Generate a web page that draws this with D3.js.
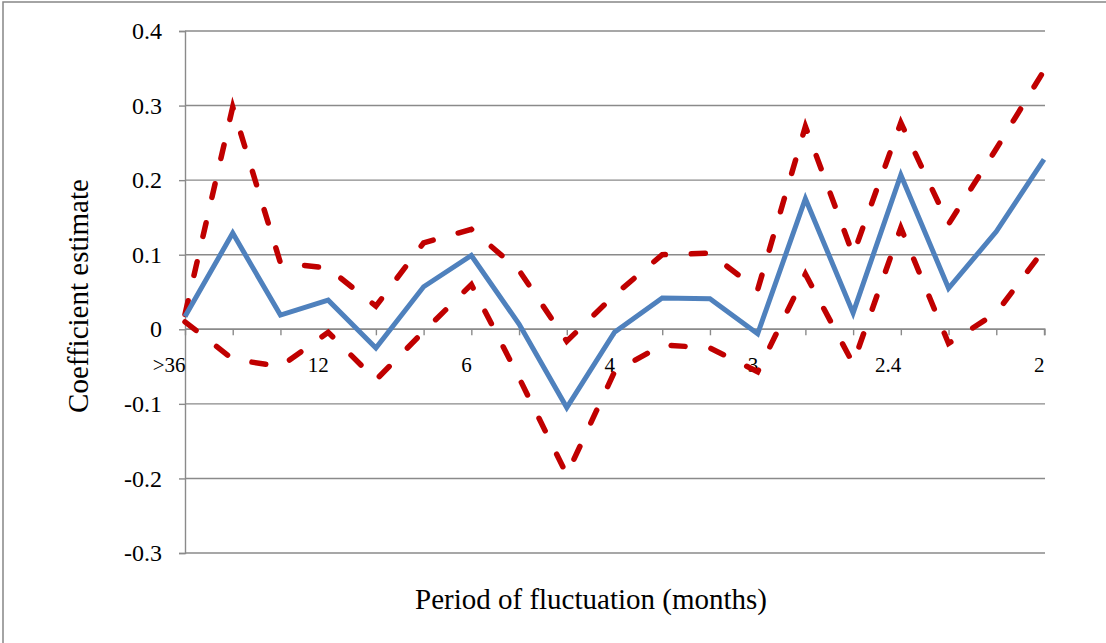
<!DOCTYPE html>
<html>
<head>
<meta charset="utf-8">
<script src="https://cdn.jsdelivr.net/npm/d3@7"></script>
<style>
  body { margin: 0; background: #fff; }
  text { font-family: "Liberation Serif", "Times New Roman", serif; fill: #000; }
</style>
</head>
<body>
<script>
'use strict';
// periods (months), one per frequency step
let periods = [">36", "36", "18", "12", "9", "7.2", "6", "5.1", "4.5", "4",
               "3.6", "3.3", "3", "2.8", "2.6", "2.4", "2.3", "2.1", "2"];
let estimate = [0.017, 0.129, 0.019, 0.039, -0.025, 0.057, 0.099, 0.007, -0.105, -0.004,
                0.042, 0.041, -0.006, 0.175, 0.022, 0.207, 0.055, 0.131, 0.228];
let upper = [0.02, 0.298, 0.089, 0.082, 0.031, 0.116, 0.134, 0.079, -0.016, 0.046,
             0.100, 0.102, 0.053, 0.272, 0.100, 0.277, 0.141, 0.242, 0.347];
let lower = [0.01, -0.040, -0.050, -0.004, -0.068, -0.003, 0.060, -0.065, -0.195, -0.057,
             -0.021, -0.025, -0.057, 0.074, -0.046, 0.136, -0.019, 0.022, 0.107];
let yTicks = [-0.3, -0.2, -0.1, 0, 0.1, 0.2, 0.3, 0.4];

let width = 1106, height = 643;
let plotLeft = 185, plotRight = 1045, plotTop = 31, plotBottom = 553;

let svg = d3.select("body").append("svg")
	.attr("width", width)
	.attr("height", height);

// outer chart frame
svg.append("rect")
	.attr("x", 3).attr("y", 2)
	.attr("width", width + 10).attr("height", height + 10)
	.attr("fill", "none")
	.attr("stroke", "#878787")
	.attr("stroke-width", 1.5);

let x = d3.scalePoint().domain(periods).range([plotLeft, 1044]);
let y = d3.scaleLinear().domain([-0.3, 0.4]).range([plotBottom, plotTop]);

// gridlines
svg.selectAll("line.grid")
	.data(yTicks)
	.enter().append("line")
		.attr("class", "grid")
		.attr("x1", plotLeft).attr("x2", plotRight)
		.attr("y1", d => y(d)).attr("y2", d => y(d))
		.attr("stroke", "#8a8a8a")
		.attr("stroke-width", 1.4);

// y axis
let yAxis = svg.append("g")
	.attr("transform", "translate(" + plotLeft + ",0)")
	.call(d3.axisLeft(y).tickValues(yTicks).tickSize(6).tickPadding(17)
		.tickFormat(d => d === 0 ? "0" : d.toFixed(1)));
yAxis.select(".domain").attr("stroke", "#8a8a8a").attr("stroke-width", 1.4);
yAxis.selectAll(".tick line").attr("stroke", "#8a8a8a").attr("stroke-width", 1.4);
yAxis.selectAll(".tick text")
	.attr("font-size", 24)
	.attr("font-family", "Liberation Serif")
	.attr("fill", "#000");

// x axis along zero
let xAxis = svg.append("g")
	.attr("transform", "translate(0," + y(0) + ")")
	.call(d3.axisBottom(x).tickSizeOuter(0).tickSize(6).tickPadding(0)
		.tickFormat((d, i) => i % 3 === 0 ? d : ""));
xAxis.select(".domain")
	.attr("d", "M" + plotLeft + ",0H" + plotRight + "V6")
	.attr("stroke", "#8a8a8a").attr("stroke-width", 1.4);
xAxis.selectAll(".tick line").attr("stroke", "#8a8a8a").attr("stroke-width", 1.4);
xAxis.selectAll(".tick text")
	.attr("font-size", 21)
	.attr("font-family", "Liberation Serif")
	.attr("fill", "#000")
	.attr("text-anchor", "end")
	.attr("dy", null)
	.attr("y", 43);

let line = d3.line()
	.x((d, i) => x(periods[i]))
	.y(d => y(d));

svg.append("path")
	.attr("d", line(upper))
	.attr("fill", "none")
	.attr("stroke", "#c00000")
	.attr("stroke-width", 5.5)
	.attr("stroke-linecap", "round")
	.attr("stroke-dasharray", "14,26");

svg.append("path")
	.attr("d", line(lower))
	.attr("fill", "none")
	.attr("stroke", "#c00000")
	.attr("stroke-width", 5.5)
	.attr("stroke-linecap", "round")
	.attr("stroke-dasharray", "14,26");

svg.append("path")
	.attr("d", line(estimate))
	.attr("fill", "none")
	.attr("stroke", "#4f81bd")
	.attr("stroke-width", 5)
	.attr("stroke-linejoin", "miter");

// axis titles
svg.append("text")
	.attr("x", 591).attr("y", 609)
	.attr("text-anchor", "middle")
	.attr("font-size", 29)
	.text("Period of fluctuation (months)");

svg.append("text")
	.attr("transform", "translate(88,296) rotate(-90)")
	.attr("text-anchor", "middle")
	.attr("font-size", 29)
	.text("Coefficient estimate");
</script>
</body>
</html>
